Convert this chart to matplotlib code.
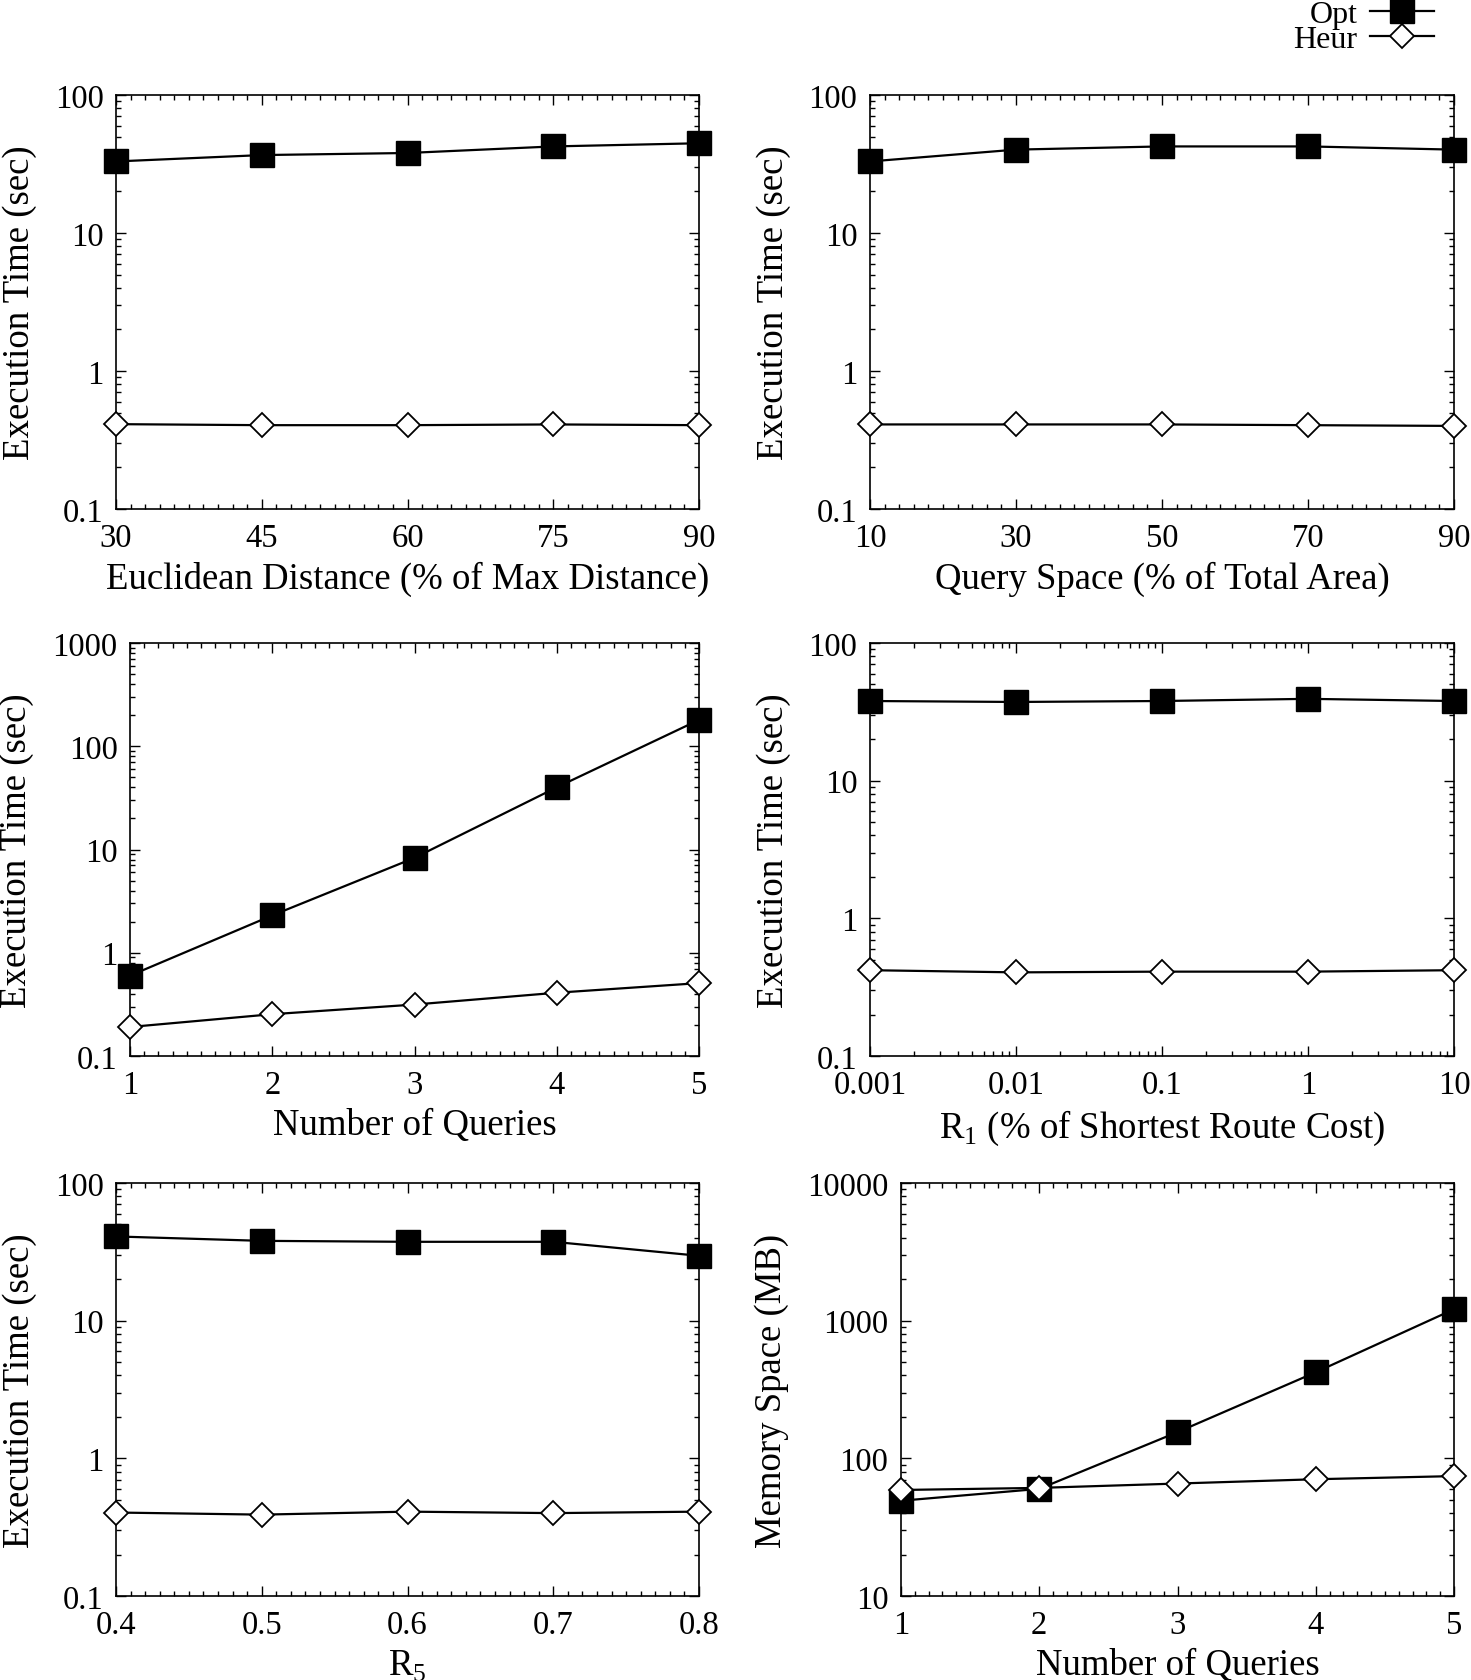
import matplotlib
matplotlib.use("Agg")
import matplotlib.pyplot as plt
from matplotlib.ticker import AutoMinorLocator, LogLocator, NullFormatter, FixedLocator, FixedFormatter
from matplotlib.lines import Line2D

plt.rcParams['font.family'] = ['Liberation Serif', 'DejaVu Serif']
plt.rcParams['mathtext.fontset'] = 'custom'
plt.rcParams['mathtext.rm'] = 'Liberation Serif'

# panel 1: euclidean distance
dist_x = [30, 45, 60, 75, 90]
dist_opt = [33, 36.7, 38, 42.4, 44.7]
dist_heur = [0.412, 0.405, 0.405, 0.41, 0.405]

# panel 2: query space
space_x = [10, 30, 50, 70, 90]
space_opt = [33, 40.2, 42.4, 42.4, 40.2]
space_heur = [0.41, 0.41, 0.41, 0.405, 0.40]

# panel 3: number of queries (time)
nq_x = [1, 2, 3, 4, 5]
nq_opt = [0.60, 2.30, 8.3, 40, 180]
nq_heur = [0.191, 0.254, 0.315, 0.41, 0.508]

# panel 4: R1
r1_x = [0.001, 0.01, 0.1, 1, 10]
r1_opt = [37.9, 37.3, 37.9, 39.3, 37.9]
r1_heur = [0.42, 0.405, 0.41, 0.41, 0.42]

# panel 5: R5
r5_x = [0.4, 0.5, 0.6, 0.7, 0.8]
r5_opt = [40.9, 38, 37.4, 37.4, 29.6]
r5_heur = [0.404, 0.39, 0.41, 0.40, 0.41]

# panel 6: number of queries (memory)
mem_x = [1, 2, 3, 4, 5]
mem_opt = [49.2, 60, 155, 422, 1211]
mem_heur = [58.9, 61, 65.6, 70.5, 74.3]

TICK_FS = 23.5
LABEL_FS = 26.5
LW = 1.6
SQ = 17
DM = 12.5

W, H = 1471, 1681
fig = plt.figure(figsize=(W / 100, H / 100), dpi=100)


def make_ax(left, top, right, bottom):
    return fig.add_axes([left / W, 1 - bottom / H, (right - left) / W, (bottom - top) / H])


def style(ax, xlim, ylim, ylabel, xlabel, xticks, xlabels, yticks, ylabels, xlog=False):
    ax.set_yscale('log')
    if xlog:
        ax.set_xscale('log')
        ax.xaxis.set_minor_locator(LogLocator(base=10, subs=range(2, 10)))
        ax.xaxis.set_minor_formatter(NullFormatter())
    else:
        ax.xaxis.set_minor_locator(AutoMinorLocator(10))
    ax.set_xlim(*xlim)
    ax.set_ylim(*ylim)
    ax.xaxis.set_major_locator(FixedLocator(xticks))
    ax.xaxis.set_major_formatter(FixedFormatter(xlabels))
    ax.yaxis.set_major_locator(FixedLocator(yticks))
    ax.yaxis.set_major_formatter(FixedFormatter(ylabels))
    ax.yaxis.set_minor_locator(LogLocator(base=10, subs=range(2, 10)))
    ax.yaxis.set_minor_formatter(NullFormatter())
    ax.tick_params(which='both', direction='in', top=True, right=True, labelsize=TICK_FS, width=1.0)
    ax.tick_params(which='major', length=7)
    ax.tick_params(which='minor', length=3.5)
    ax.tick_params(axis='x', pad=10)
    ax.tick_params(axis='y', pad=9)
    for s in ax.spines.values():
        s.set_linewidth(1.2)
    ax.set_ylabel(ylabel, fontsize=LABEL_FS, labelpad=13)
    ax.set_xlabel(xlabel, fontsize=LABEL_FS, labelpad=5)


def draw(ax, x, opt, heur):
    ax.plot(x, opt, color='black', lw=LW, marker='s', ms=SQ, mfc='black', mec='black', clip_on=False, zorder=3)
    ax.plot(x, heur, color='black', lw=LW, marker='D', ms=DM, mfc='white', mec='black', mew=1.3, clip_on=False, zorder=3)


et = 'Execution Time (sec)'

ax1 = make_ax(116, 96, 699, 510)
draw(ax1, dist_x, dist_opt, dist_heur)
style(ax1, (30, 90), (0.1, 100), et, 'Euclidean Distance (% of Max Distance)',
      dist_x, [str(v) for v in dist_x], [0.1, 1, 10, 100], ['0.1', '1', '10', '100'])

ax2 = make_ax(870, 96, 1454, 510)
draw(ax2, space_x, space_opt, space_heur)
style(ax2, (10, 90), (0.1, 100), et, 'Query Space (% of Total Area)',
      space_x, [str(v) for v in space_x], [0.1, 1, 10, 100], ['0.1', '1', '10', '100'])

ax3 = make_ax(130, 644, 699, 1057)
draw(ax3, nq_x, nq_opt, nq_heur)
style(ax3, (1, 5), (0.1, 1000), et, 'Number of Queries',
      nq_x, [str(v) for v in nq_x], [0.1, 1, 10, 100, 1000], ['0.1', '1', '10', '100', '1000'])

ax4 = make_ax(870, 644, 1454, 1057)
draw(ax4, r1_x, r1_opt, r1_heur)
style(ax4, (0.001, 10), (0.1, 100), et, r'R$_1$ (% of Shortest Route Cost)',
      r1_x, ['0.001', '0.01', '0.1', '1', '10'], [0.1, 1, 10, 100], ['0.1', '1', '10', '100'], xlog=True)

ax5 = make_ax(116, 1184, 699, 1597)
draw(ax5, r5_x, r5_opt, r5_heur)
style(ax5, (0.4, 0.8), (0.1, 100), et, r'R$_5$',
      r5_x, [str(v) for v in r5_x], [0.1, 1, 10, 100], ['0.1', '1', '10', '100'])

ax6 = make_ax(901, 1184, 1454, 1597)
draw(ax6, mem_x, mem_opt, mem_heur)
style(ax6, (1, 5), (10, 10000), 'Memory Space (MB)', 'Number of Queries',
      mem_x, [str(v) for v in mem_x], [10, 100, 1000, 10000], ['10', '100', '1000', '10000'])

# legend at top right
handles = [
    Line2D([], [], color='black', lw=LW, marker='s', ms=SQ, mfc='black', mec='black'),
    Line2D([], [], color='black', lw=LW, marker='D', ms=DM, mfc='white', mec='black', mew=1.3),
]
fig.legend(handles, ['Opt', 'Heur'], loc='upper right', bbox_to_anchor=(1450 / W, 1 + 15 / H),
           frameon=False, fontsize=23, markerfirst=False, handlelength=2.0, handletextpad=0.4,
           labelspacing=-0.15, borderpad=0.0)

fig.savefig('out.png', dpi=100)
